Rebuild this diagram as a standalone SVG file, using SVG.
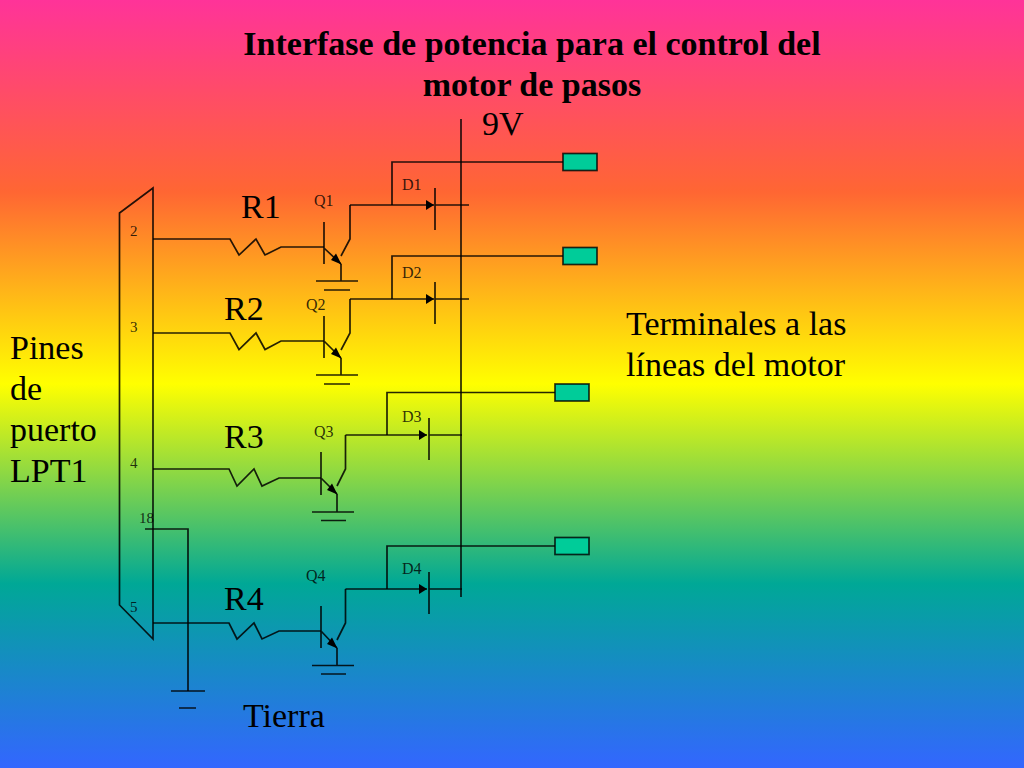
<svg xmlns="http://www.w3.org/2000/svg" width="1024" height="768" viewBox="0 0 1024 768">
<style>
.w{fill:none;stroke:#000;stroke-width:1.7;stroke-opacity:.85}
.t{fill:#00cc99;stroke:#000;stroke-width:1.7;stroke-opacity:.8}
text{font-family:"Liberation Serif","Times New Roman",serif;fill:#000}
.s{font-size:16px;fill-opacity:.8}
.n{font-size:15px;fill-opacity:.8}
.m{font-size:34px}
.h{font-size:34px;font-weight:bold;text-anchor:middle}
</style>
<defs>
<linearGradient id="bg" x1="0" y1="0" x2="0" y2="1">
<stop offset="0" stop-color="#ff3399"/>
<stop offset=".25" stop-color="#ff6633"/>
<stop offset=".5" stop-color="#ffff00"/>
<stop offset=".76" stop-color="#00a896"/>
<stop offset="1" stop-color="#3366ff"/>
</linearGradient>
<marker id="a" markerUnits="userSpaceOnUse" markerWidth="9" markerHeight="10" refX="8" refY="5" orient="auto"><path d="M0 0L8 5L0 10Z" fill="#000"/></marker>
</defs>
<rect width="1024" height="768" fill="url(#bg)"/>
<g id="connectors">
<path class="w" d="M461 119V597"/>
<path class="w" d="M153 239H230L239 255L256 239L265 255L281 247H324"/>
<path class="w" d="M153 333H230L239 349.500L256 333L265 349.500L281 341H324"/>
<path class="w" d="M153 469H229L237 486L254 469L262 486L279 478H321"/>
<path class="w" d="M153 623H229L237 639L254 623L262 639L279 631H321"/>
<path class="w" d="M145 529H188V691"/>
<path class="w" d="M350 205H434" marker-end="url(#a)"/>
<path class="w" d="M350 299H434" marker-end="url(#a)"/>
<path class="w" d="M345.500 435H427" marker-end="url(#a)"/>
<path class="w" d="M345.500 589H427" marker-end="url(#a)"/>
<path class="w" d="M392 205V162H563"/>
<path class="w" d="M392 299V256H563"/>
<path class="w" d="M387 435V392.500H555"/>
<path class="w" d="M387 589V546H555"/>
</g>
<g id="connector-lpt1"><path class="w" d="M119.500 213L153 188V639L119.500 605Z"/></g>
<g id="q1"><path class="w" d="M324 222V264M324 248L341 264" /><path d="M341.500 264.500L331 260L336 253.500Z"/><path class="w" d="M341 256L350 239V205M341 264V281M316 281H358M324 290H350"/></g>
<g id="q2"><path class="w" d="M324 316V358M324 341L341 358"/><path d="M341.500 358.500L331 354L336 347.500Z"/><path class="w" d="M341 350L350 333V299M341 358V375M316 375H358M324 384H350"/></g>
<g id="q3"><path class="w" d="M321 452V495M321 478L337 494"/><path d="M337.500 494.500L327 490L332 483.500Z"/><path class="w" d="M337 486L345.500 469V435M337 494V512M312 512H354M321 520.500H346"/></g>
<g id="q4"><path class="w" d="M321 606V648M321 631L337 648"/><path d="M337.500 648.500L327 644L332 637.500Z"/><path class="w" d="M337 640L345.500 623V589M337 648V665.500M312 665.500H354M321 674H346"/></g>
<g id="d1"><path class="w" d="M435 188V230M435 205H469"/></g>
<g id="d2"><path class="w" d="M435 282V324M435 299H469"/></g>
<g id="d3"><path class="w" d="M429 418V460M429 435H462"/></g>
<g id="d4"><path class="w" d="M429 572V614M429 589H462"/></g>
<g id="ground"><path class="w" d="M171 691H205M179 708H196"/></g>
<g id="t1"><rect class="t" x="563" y="153.500" width="34" height="17"/></g>
<g id="t2"><rect class="t" x="563" y="247.500" width="34" height="17"/></g>
<g id="t3"><rect class="t" x="555" y="384" width="34" height="17"/></g>
<g id="t4"><rect class="t" x="555" y="537.500" width="34" height="17"/></g>
<g id="labels">
<text class="h" x="532" y="55">Interfase de potencia para el control del</text>
<text class="h" x="532" y="96">motor de pasos</text>
<text class="m" x="482" y="135">9V</text>
<text class="m" x="241" y="218">R1</text>
<text class="m" x="224" y="320">R2</text>
<text class="m" x="224" y="448">R3</text>
<text class="m" x="224" y="610">R4</text>
<text class="m" x="10" y="359">Pines</text>
<text class="m" x="10" y="400">de</text>
<text class="m" x="10" y="441">puerto</text>
<text class="m" x="10" y="482">LPT1</text>
<text class="m" x="626" y="335">Terminales a las</text>
<text class="m" x="626" y="376">líneas del motor</text>
<text class="m" x="243" y="727">Tierra</text>
<text class="s" x="314" y="206">Q1</text>
<text class="s" x="306" y="310">Q2</text>
<text class="s" x="314" y="437">Q3</text>
<text class="s" x="306" y="581">Q4</text>
<text class="s" x="402" y="190">D1</text>
<text class="s" x="402" y="278">D2</text>
<text class="s" x="402" y="422">D3</text>
<text class="s" x="402" y="574">D4</text>
<text class="n" x="130" y="236">2</text>
<text class="n" x="130" y="332">3</text>
<text class="n" x="130" y="468">4</text>
<text class="n" x="139" y="523">18</text>
<text class="n" x="130" y="612">5</text>
</g>
</svg>
